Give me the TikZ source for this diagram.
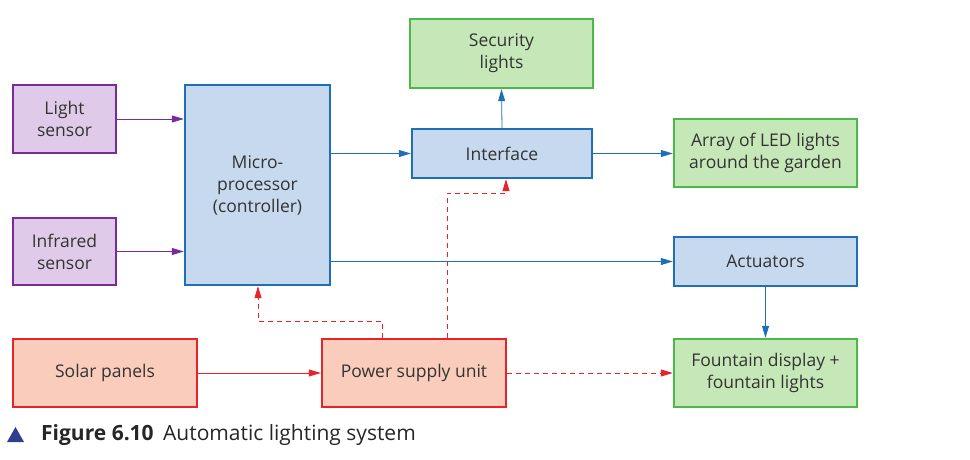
\documentclass[tikz,border=0pt]{standalone}
\usepackage{fontspec}
\setmainfont{Open Sans}
\usetikzlibrary{arrows.meta}
\definecolor{pb}{HTML}{7B2A9A}\definecolor{pf}{HTML}{E0CAE9}
\definecolor{bb}{HTML}{1F6FB5}\definecolor{bf}{HTML}{C7D9EF}
\definecolor{gb}{HTML}{4CB848}\definecolor{gf}{HTML}{C6E8B9}
\definecolor{rb}{HTML}{E8232A}\definecolor{rf}{HTML}{F9CCBB}
\definecolor{tri}{HTML}{2E3F8F}
\begin{document}
\begin{tikzpicture}[x=1pt,y=-1pt,
 box/.style={draw,line width=2.4pt,align=center,font=\fontsize{17.5}{22}\selectfont,text=black!80,inner sep=0pt},
 pur/.style={box,draw=pb,fill=pf},
 blu/.style={box,draw=bb,fill=bf},
 grn/.style={box,draw=gb,fill=gf},
 red/.style={box,draw=rb,fill=rf},
 ab/.style={draw=bb,line width=0.8pt,-{Triangle[length=12pt,width=7pt]}},
 ap/.style={draw=pb,line width=0.8pt,-{Triangle[length=12pt,width=7pt]}},
 ar/.style={draw=rb,line width=0.8pt,-{Triangle[length=12pt,width=7pt]}},
 ard/.style={ar,dash pattern=on 5pt off 4pt}]
\useasboundingbox (0,0) rectangle (970,460);
\node[pur,minimum width=103,minimum height=68] (ls) at (64.5,119) {Light\\sensor};
\node[pur,minimum width=103,minimum height=67] (ir) at (64.5,251.5) {Infrared\\sensor};
\node[blu,minimum width=145,minimum height=200] (mp) at (257.5,185) {Micro-\\processor\\(controller)};
\node[grn,minimum width=183,minimum height=69] (sl) at (501.5,53.5) {Security\\lights};
\node[blu,minimum width=180,minimum height=49] (if) at (502,153.5) {Interface};
\node[grn,minimum width=183,minimum height=68] (ar) at (765.5,153) {Array of LED lights\\around the garden};
\node[blu,minimum width=183,minimum height=49] (ac) at (765.5,261.5) {Actuators};
\node[red,minimum width=184,minimum height=68] (sp) at (105,373) {Solar panels};
\node[red,minimum width=184,minimum height=68] (ps) at (414,373) {Power supply unit};
\node[grn,minimum width=183,minimum height=68] (fd) at (765.5,373) {Fountain display +\\fountain lights};
\draw[ap] (ls.east) -- (mp.west|-ls.east);
\draw[ap] (ir.east) -- (mp.west|-ir.east);
\draw[ab] (mp.east|-if.west) -- (if.west);
\draw[ab] (mp.east|-ac.west) -- (ac.west);
\draw[ab] (if.north) -- (sl.south);
\draw[ab] (if.east) -- (ar.west|-if.east);
\draw[ab] (ac.south) -- (fd.north);
\draw[ar] (sp.east) -- (ps.west);
\draw[ard] (ps.east) -- (fd.west);
\coordinate (p1) at (382,338);\coordinate (p2) at (447,338);
\draw[ard] (p1) -- (382,321) -- (258,321) -- (mp.south-|258,0);
\draw[ard] (p2) -- (447,193) -- (506,193) -- (if.south-|506,0);
\fill[tri] (7,442) -- (24,442) -- (15.5,427) -- cycle;
\node[anchor=west,font=\fontsize{21}{24}\selectfont,text=black!85,inner sep=0] (cap) at (41,435) {\textbf{Figure 6.10}\hspace{0.45em}Automatic lighting system};
\end{tikzpicture}
\end{document}
